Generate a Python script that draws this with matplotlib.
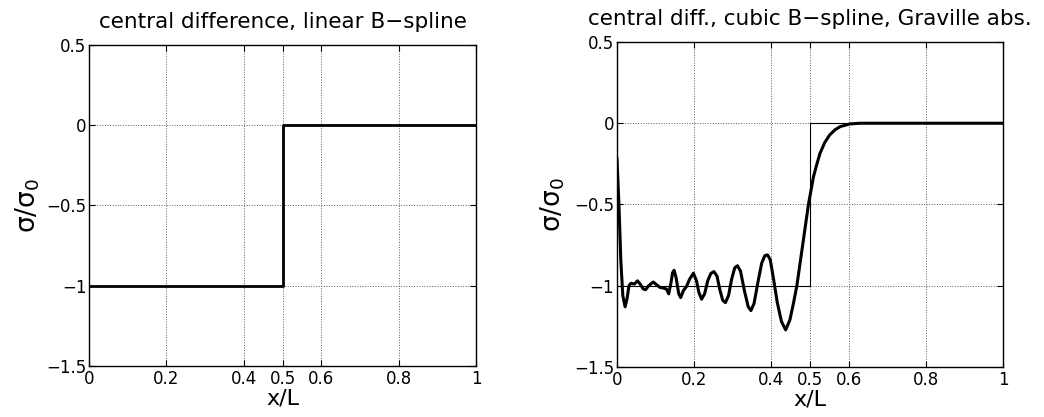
import numpy as np
import matplotlib
matplotlib.use("Agg")
import matplotlib.pyplot as plt

plt.rcParams["font.family"] = ["DejaVu Sans"]
plt.rcParams["mathtext.fontset"] = "dejavusans"
plt.rcParams["mathtext.default"] = "regular"

# ---------------------------------------------------------------------
# Data
# ---------------------------------------------------------------------

# exact solution: step from -1 to 0 at x/L = 0.5
exact_x = [0.0, 0.5, 0.5, 1.0]
exact_y = [-1.0, -1.0, 0.0, 0.0]

# left panel: linear B-spline result (practically the step itself)
lin_x = [0.0, 0.5, 0.5, 1.0]
lin_y = [-1.0, -1.0, 0.0, 0.0]

# right panel: cubic B-spline, Graville abscissae
cub_x = [0.000, 0.005, 0.010, 0.015, 0.021, 0.026, 0.031, 0.036, 0.045,
         0.053, 0.060, 0.068, 0.074, 0.082, 0.094, 0.103, 0.111, 0.121,
         0.128, 0.134, 0.140, 0.144, 0.148, 0.153, 0.160, 0.165, 0.172,
         0.180, 0.188, 0.198, 0.206, 0.212, 0.219, 0.227, 0.235, 0.243,
         0.251, 0.259, 0.267, 0.274, 0.281, 0.289, 0.297, 0.305, 0.312,
         0.320, 0.330, 0.340, 0.347, 0.355, 0.365, 0.375, 0.383, 0.390,
         0.397, 0.405, 0.415, 0.426, 0.437, 0.448, 0.457, 0.466, 0.481,
         0.496, 0.509, 0.518, 0.526, 0.538, 0.551, 0.565, 0.578, 0.604,
         0.630, 1.000]
cub_y = [-0.22, -0.50, -0.85, -1.06, -1.13, -1.08, -1.00, -0.985, -0.99,
         -0.97, -0.99, -1.02, -1.025, -1.00, -0.977, -0.995, -1.01, -1.015,
         -1.02, -1.05, -0.98, -0.92, -0.905, -0.95, -1.05, -1.073, -1.03,
         -1.005, -0.96, -0.923, -0.97, -1.04, -1.083, -1.05, -0.97, -0.925,
         -0.913, -0.94, -1.03, -1.09, -1.104, -1.06, -0.96, -0.89, -0.877,
         -0.91, -1.03, -1.13, -1.153, -1.11, -0.98, -0.86, -0.815, -0.81,
         -0.84, -0.95, -1.10, -1.22, -1.272, -1.21, -1.11, -1.00, -0.75,
         -0.50, -0.33, -0.25, -0.185, -0.12, -0.072, -0.04, -0.021, -0.004,
         0.0, 0.0]

xticks = [0, 0.2, 0.4, 0.5, 0.6, 0.8, 1]
xticklabels = ["0", "0.2", "0.4", "0.5", "0.6", "0.8", "1"]
yticks = [-1.5, -1, -0.5, 0, 0.5]
yticklabels = ["\u22121.5", "\u22121", "\u22120.5", "0", "0.5"]


# ---------------------------------------------------------------------
# Plotting
# ---------------------------------------------------------------------

def style_axes(ax, title, label_x):
    ax.set_xlim(0, 1)
    ax.set_ylim(-1.5, 0.5)
    ax.set_xticks(xticks)
    ax.set_xticklabels(xticklabels)
    ax.set_yticks(yticks)
    ax.set_yticklabels(yticklabels)
    ax.tick_params(direction="in", top=True, right=True, length=4,
                   width=0.8, labelsize=12)
    ax.tick_params(axis="x", pad=3)
    ax.tick_params(axis="y", pad=2)
    ax.grid(True, linestyle=":", color="0.35", linewidth=0.7)
    for s in ax.spines.values():
        s.set_linewidth(1.0)
    ax.set_title(title, fontsize=15.5, pad=12)
    ax.set_xlabel("x/L", fontsize=16, labelpad=0)
    ax.set_ylabel(r"$\sigma/\sigma_0$", fontsize=19)
    ax.yaxis.set_label_coords(label_x, 0.5)


fig = plt.figure(figsize=(10.44, 4.17), dpi=100)
ax1 = fig.add_axes([0.0853, 0.1223, 0.3707, 0.7698])
ax2 = fig.add_axes([0.591, 0.120, 0.3697, 0.7793])

ax1.plot(exact_x, exact_y, color="k", linewidth=0.8)
ax1.plot(lin_x, lin_y, color="k", linewidth=2.0)
style_axes(ax1, "central difference, linear B\u2212spline", -0.122)

ax2.plot(exact_x, exact_y, color="k", linewidth=0.8)
ax2.plot(cub_x, cub_y, color="k", linewidth=2.2)
style_axes(ax2, "central diff., cubic B\u2212spline, Graville abs.", -0.13)

fig.savefig("out.png", dpi=100)
